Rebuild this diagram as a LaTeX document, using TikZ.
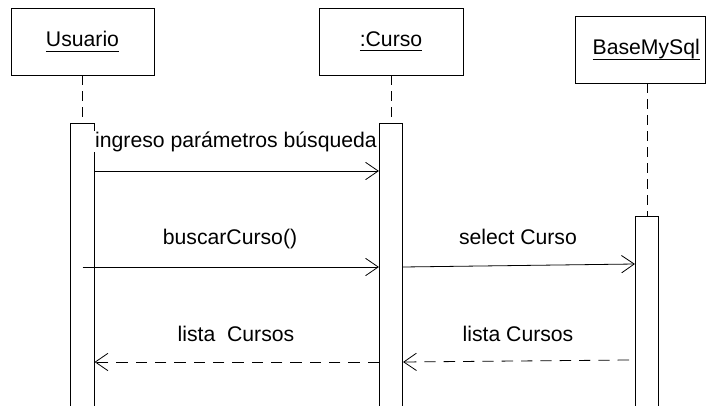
\documentclass[tikz,border=0pt]{standalone}
\usepackage{fontspec}
\setmainfont{Liberation Sans}
\usetikzlibrary{arrows.meta}
\newcommand{\objname}[1]{\setbox0\hbox{#1}\rlap{\rule[-3.6pt]{\wd0}{0.6pt}}\box0}

\begin{document}
\begin{tikzpicture}[x=0.75pt,y=-0.75pt,font=\fontsize{15.9}{19}\selectfont,
  objbox/.style={draw,line width=0.6pt,minimum width=107.25pt,minimum height=50.25pt,inner sep=0pt},
  actbar/.style={draw,fill=white,line width=0.6pt,minimum width=17.5pt,anchor=north,inner sep=0pt},
  lifeline/.style={line width=0.6pt,dash pattern=on 7.5pt off 4.5pt},
  msg/.style={line width=0.6pt,-{Straight Barb[length=9.5pt,width=13pt]}},
  reply/.style={msg,dash pattern=on 8.5pt off 6pt},
  msglbl/.style={anchor=base,inner sep=0.5pt}]
  \useasboundingbox (0,0) rectangle (706,406);
  \clip (0,0) rectangle (706,406);
  \node[objbox] (usuario) at (82.5,41.5){\objname{Usuario}};
  \node[objbox,minimum width=108pt] (curso) at (391,41.5){\objname{:Curso}};
  \node[objbox,minimum width=97.9pt] (base) at (640.25,49.5){\hspace*{9pt}\objname{BaseMySql}};
  \node[actbar,minimum height=223pt] (usuAct) at (82.5,123){};
  \node[actbar,minimum height=223pt] (curAct) at (391,123){};
  \node[actbar,minimum height=153pt] (baseAct) at (647,216){};
  \draw[lifeline] (usuario.south) -- (usuAct.north);
  \draw[lifeline] (curso.south) -- (curAct.north);
  \draw[lifeline] (base.south -| baseAct.north) -- (baseAct.north);
  \node[msglbl,fill=white,inner xsep=1pt] (lblIngreso) at (236,147){ingreso parámetros búsqueda};
  \node[msglbl] (lblBuscar) at (230,244){buscarCurso()};
  \node[msglbl] (lblSelect) at (518,244){select Curso};
  \node[msglbl] (lblLista) at (236,341){lista\ \ Cursos};
  \node[msglbl] (lblListaBase) at (518,341){lista Cursos};
  \coordinate (m1) at (0,171);
  \coordinate (m2) at (0,267);
  \coordinate (m3) at (0,264);
  \coordinate (r2) at (0,362);
  \coordinate (r1) at (629,360);
  \draw[msg] (usuAct.east |- m1) -- (curAct.west |- m1);
  \draw[msg] (usuAct.center |- m2) -- (curAct.west |- m2);
  \draw[msg] (curAct.east |- m2) -- (baseAct.west |- m3);
  \draw[reply] (r1) -- (curAct.east |- r2);
  \draw[reply] (curAct.west |- r2) -- (usuAct.east |- r2);
\end{tikzpicture}
\end{document}
